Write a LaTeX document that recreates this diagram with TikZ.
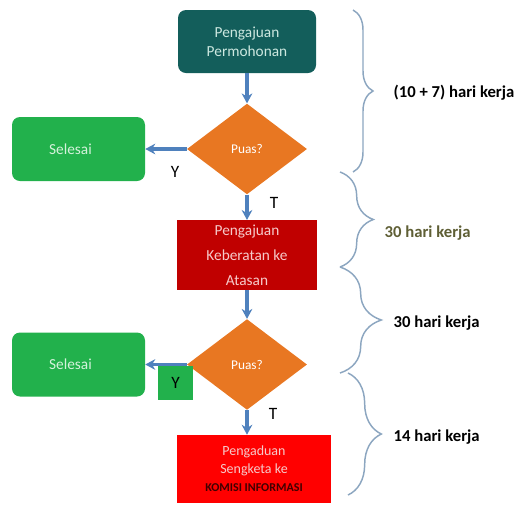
\documentclass[tikz,border=0pt]{standalone}
\usepackage{fontspec}
\setmainfont{Carlito}
\usepackage{tikz}
\usetikzlibrary{shapes.geometric,arrows.meta,positioning,decorations.pathreplacing}
\definecolor{tealbox}{HTML}{135E5B}
\definecolor{tealtext}{HTML}{CDE8E0}
\definecolor{orangedia}{HTML}{E87722}
\definecolor{greenbox}{HTML}{22B14C}
\definecolor{greentext}{HTML}{D5F2DC}
\definecolor{darkred}{HTML}{C00000}
\definecolor{brightred}{HTML}{FF0000}
\definecolor{pinktext}{HTML}{F6CACA}
\definecolor{arrowblue}{HTML}{4F81BD}
\definecolor{bracegray}{HTML}{8CA6C0}
\definecolor{olivetext}{HTML}{5F5F35}

\begin{document}
\begin{tikzpicture}[x=0.75pt, y=-0.75pt,
    every node/.style={font=\fontsize{11.5}{14}\selectfont},
    flow/.style={-{Stealth[length=7.5pt,width=8pt]}, line width=2.6pt, draw=arrowblue},
    decision/.style={diamond, fill=orangedia, text=white, inner sep=0pt,
      minimum width=90pt, minimum height=68pt, font=\fontsize{10}{12}\selectfont},
    donebox/.style={rectangle, rounded corners=6pt, fill=greenbox, text=greentext,
      minimum width=99.75pt, minimum height=48pt},
    yt/.style={font=\fontsize{13}{15}\selectfont},
    timebrace/.style={decorate, line width=1.1pt, draw=bracegray},
    timelabel/.style={anchor=west, font=\fontsize{12.5}{15}\selectfont\bfseries}]
  \useasboundingbox (0,0) rectangle (520,508);

  \node[rectangle, rounded corners=6pt, fill=tealbox, text=tealtext, align=center,
    minimum width=103.5pt, minimum height=47.25pt] (permohonan) at (247,41.5)
    {Pengajuan\\Permohonan};
  \node[decision] (puas1) at (247,149) {Puas?};
  \node[donebox] (selesai1) at (78.5,149) {\hspace*{-12pt}Selesai};
  \node[rectangle, fill=darkred, text=pinktext, align=center,
    minimum width=105pt, minimum height=48pt, font=\fontsize{11.5}{18.75}\selectfont]
    (keberatan) at (247,255) {Pengajuan\\Keberatan ke\\Atasan};
  \node[decision] (puas2) at (247,364.5) {Puas?};
  \node[donebox] (selesai2) at (78.5,364.5) {\hspace*{-12pt}Selesai};
  \node[rectangle, fill=brightred, text=pinktext, align=center,
    minimum width=115.5pt, minimum height=51pt, font=\fontsize{10.5}{13.5}\selectfont]
    (sengketa) at (254,469)
    {Pengaduan\\Sengketa ke\\{\fontsize{9}{10}\selectfont\bfseries\color{black!75!red}KOMISI INFORMASI}};

  \node[rectangle, fill=greenbox, minimum width=26pt, minimum height=25.5pt,
    inner sep=0pt, yt] (ya2) at (175.5,383) {Y};
  \node[yt] (ya1) at (175,172) {Y};
  \node[yt] (tidak1) at (274,203) {T};
  \node[yt] (tidak2) at (273,414) {T};

  \draw[flow] (permohonan) -- (puas1);
  \draw[flow] (puas1) -- (selesai1);
  \draw[flow] (puas1) -- (keberatan);
  \draw[flow] (keberatan) -- (puas2);
  \draw[flow] (puas2) -- (selesai2);
  \draw[flow] (puas2.south) -- (puas2.south |- sengketa.north);

  \coordinate (b1top) at (353,10);
  \coordinate (b1bot) at (353,172);
  \coordinate (b2top) at (340,172);
  \coordinate (b2bot) at (340,267);
  \coordinate (b3top) at (340,267);
  \coordinate (b3bot) at (340,373);
  \coordinate (b4top) at (348,373);
  \coordinate (b4bot) at (348,495);
  \draw[timebrace, decoration={brace, amplitude=15pt}] (b1top) -- (b1bot);
  \draw[timebrace, decoration={brace, amplitude=25pt}] (b2top) -- (b2bot);
  \draw[timebrace, decoration={brace, amplitude=31pt}] (b3top) -- (b3bot);
  \draw[timebrace, decoration={brace, amplitude=25pt}] (b4top) -- (b4bot);

  \node[timelabel] (hari1) at (389,93) {(10 + 7) hari kerja};
  \node[timelabel, text=olivetext] (hari2) at (380,233) {30 hari kerja};
  \node[timelabel] (hari3) at (389,323) {30 hari kerja};
  \node[timelabel] (hari4) at (389,437) {14 hari kerja};
\end{tikzpicture}
\end{document}
